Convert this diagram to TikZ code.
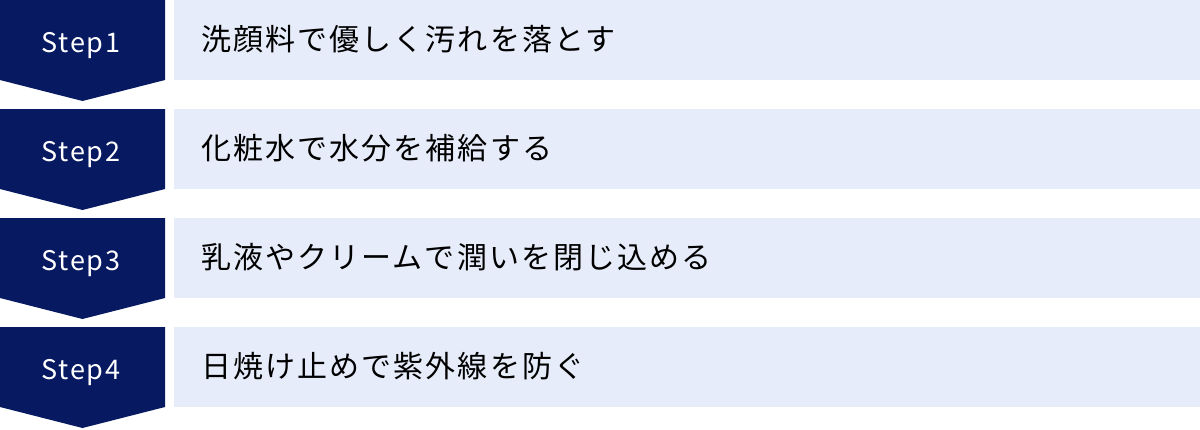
\documentclass[tikz,border=0pt]{standalone}
\usepackage{fontspec}
\setmainfont{Noto Sans CJK JP}
\usepackage{xcolor}
\usepackage{tikz}
\definecolor{stepnavy}{HTML}{061961}
\definecolor{rowblue}{HTML}{E6ECF9}
\tikzset{
  steplabel/.style={anchor=base, text=white, inner sep=0pt, font=\fontsize{27}{32}\selectfont\addfontfeatures{LetterSpace=6}},
  rowtext/.style={anchor=base west, inner sep=0pt, font=\fontsize{30}{36}\selectfont\addfontfeatures{LetterSpace=7}}
}

\begin{document}
\begin{tikzpicture}[x = 1pt, y = 1pt]
\useasboundingbox (0,0) rectangle (1200,-429);
\fill[stepnavy] (0,0) -- (165,0) -- (165,-80) -- (82.5,-101) -- (0,-80) -- cycle;
\fill[rowblue] (174,0) rectangle (1200,-80);
\node[steplabel] (s1) at (81,-52) {Step1};
\node[rowtext] (t1) at (201,-50) {洗顔料で優しく汚れを落とす};
\fill[stepnavy] (0,-109) -- (165,-109) -- (165,-189) -- (82.5,-210) -- (0,-189) -- cycle;
\fill[rowblue] (174,-109) rectangle (1200,-189);
\node[steplabel] (s2) at (81,-161) {Step2};
\node[rowtext] (t2) at (201,-159) {化粧水で水分を補給する};
\fill[stepnavy] (0,-218) -- (165,-218) -- (165,-298) -- (82.5,-319) -- (0,-298) -- cycle;
\fill[rowblue] (174,-218) rectangle (1200,-298);
\node[steplabel] (s3) at (81,-270) {Step3};
\node[rowtext] (t3) at (201,-268) {乳液やクリームで潤いを閉じ込める};
\fill[stepnavy] (0,-327) -- (165,-327) -- (165,-407) -- (82.5,-428) -- (0,-407) -- cycle;
\fill[rowblue] (174,-327) rectangle (1200,-407);
\node[steplabel] (s4) at (81,-379) {Step4};
\node[rowtext] (t4) at (201,-377) {日焼け止めで紫外線を防ぐ};
\end{tikzpicture}
\end{document}
